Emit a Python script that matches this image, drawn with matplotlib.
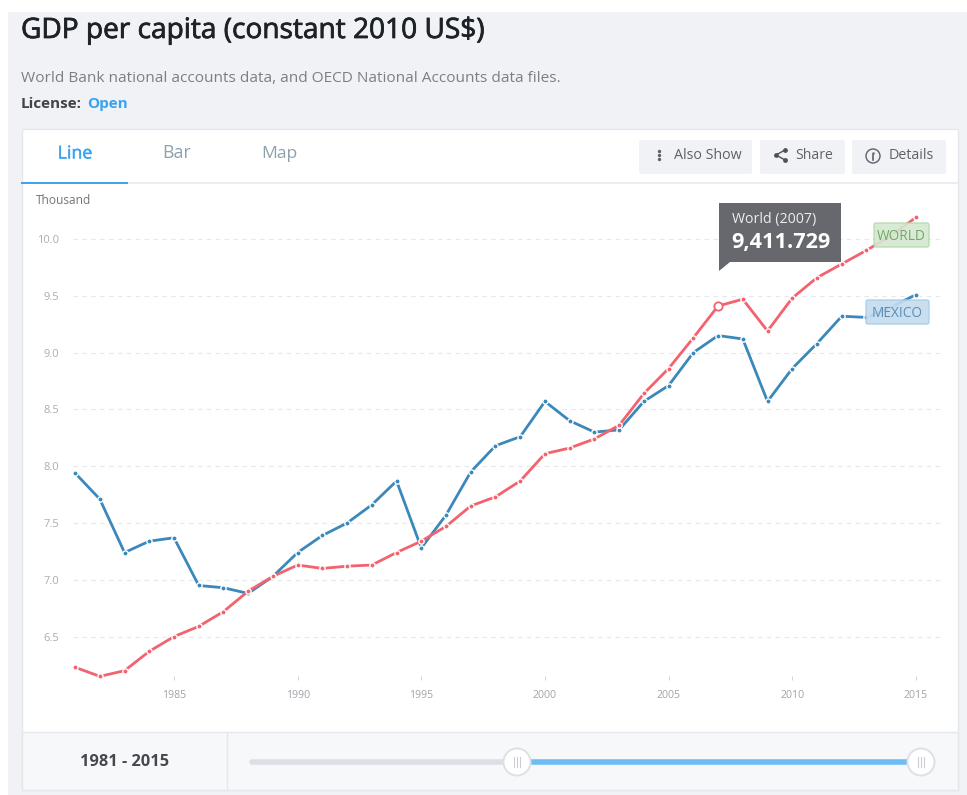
import matplotlib
matplotlib.use("Agg")
import matplotlib.pyplot as plt
import matplotlib.patheffects as pe
from matplotlib.patches import Rectangle, FancyBboxPatch, Polygon, Circle

plt.rcParams['font.family'] = ['Open Sans', 'DejaVu Sans']

# ---- data (thousand constant 2010 US$) ----
years = list(range(1981, 2016))
mexico = [7.94, 7.71, 7.24, 7.34, 7.37, 6.95, 6.93, 6.88, 7.03, 7.24, 7.39, 7.50,
          7.66, 7.87, 7.28, 7.57, 7.95, 8.18, 8.26, 8.57, 8.40, 8.30, 8.32, 8.57,
          8.71, 9.00, 9.15, 9.12, 8.57, 8.86, 9.08, 9.32, 9.31, 9.40, 9.51]
world = [6.23, 6.15, 6.20, 6.37, 6.50, 6.59, 6.72, 6.90, 7.03, 7.13, 7.10, 7.12,
         7.13, 7.24, 7.34, 7.47, 7.65, 7.73, 7.87, 8.11, 8.16, 8.24, 8.36, 8.64,
         8.86, 9.13, 9.41, 9.47, 9.19, 9.48, 9.66, 9.78, 9.90, 10.03, 10.19]
y_ticks = [6.5, 7.0, 7.5, 8.0, 8.5, 9.0, 9.5, 10.0]
x_ticks = [1985, 1990, 1995, 2000, 2005, 2010, 2015]
highlight_year = 2007
highlight_label = '9,411.729'

W, H = 967, 795
fig = plt.figure(figsize=(W / 100, H / 100), dpi=100, facecolor='white')

BLUE, RED = '#3b88bb', '#f2636f'
PAGE = '#f0f2f6'


def overlay(z):
    a = fig.add_axes([0, 0, 1, 1], zorder=z)
    a.set_xlim(0, W)
    a.set_ylim(H, 0)
    a.axis('off')
    a.patch.set_alpha(0)
    return a


def rrect(a, x0, y0, x1, y1, fc, ec='none', r=2, lw=1, alpha=None, z=2):
    a.add_patch(FancyBboxPatch((x0 + r, y0 + r), x1 - x0 - 2 * r, y1 - y0 - 2 * r,
                               boxstyle=f'round,pad={r},rounding_size={r}',
                               fc=fc, ec=ec, lw=lw, alpha=alpha, zorder=z))


def heavy(t, w, c):
    t.set_path_effects([pe.withStroke(linewidth=w, foreground=c)])
    return t


# ---- page chrome ----
bg = overlay(0)
bg.add_patch(Rectangle((8, 12), 959, 783, fc=PAGE, ec='none'))
bg.add_patch(Rectangle((22, 129), 936, 661, fc='white', ec='#e4e7ec', lw=1))
bg.plot([22, 958], [182.5, 182.5], color='#e6eaef', lw=1.2)
bg.plot([22, 127], [183, 183], color='#3ba3ee', lw=1.4)
bg.add_patch(Rectangle((22, 732), 936, 58, fc='#f7f8fa', ec='#e4e7ec', lw=1))
bg.plot([227, 227], [732, 790], color='#e4e7ec', lw=1)

heavy(bg.text(21, 31, 'GDP per capita (constant 2010 US$)', fontsize=20.2, color='#1d2228', va='center'),
      0.55, '#1d2228')
bg.text(21, 78, 'World Bank national accounts data, and OECD National Accounts data files.',
        fontsize=11.1, color='#7b7f85', va='center')
bg.text(21, 104, 'License:', fontsize=11, fontweight='bold', color='#3f444a', va='center')
bg.text(87, 104, 'Open', fontsize=11, fontweight='bold', color='#3ba3ee', va='center')
heavy(bg.text(75, 153.5, 'Line', fontsize=12.8, color='#3ba3ee', ha='center', va='center'), 0.3, '#3ba3ee')
bg.text(176.5, 153.5, 'Bar', fontsize=12.8, color='#8fa0ad', ha='center', va='center')
bg.text(279, 153.5, 'Map', fontsize=12.6, color='#8fa0ad', ha='center', va='center')
bg.text(36, 200, 'Thousand', fontsize=8.6, color='#70757b', va='center')

# buttons
for x0, x1 in [(639, 752), (760, 845), (852, 946)]:
    rrect(bg, x0, 140, x1, 174, '#f0f2f6')
bg.text(674, 155.5, 'Also Show', fontsize=10.3, color='#5d6268', va='center', zorder=3)
bg.text(795, 155.5, 'Share', fontsize=10.1, color='#5d6268', va='center', zorder=3)
bg.text(889, 155.5, 'Details', fontsize=10.3, color='#5d6268', va='center', zorder=3)
bg.scatter([659, 659, 659], [151, 155, 159], s=6, color='#5d6268', lw=0, zorder=3)
bg.plot([785, 776, 785], [150, 155, 160], color='#4d5258', lw=1, zorder=3)
bg.scatter([785, 776, 785], [150, 155, 160], s=12, color='#4d5258', lw=0, zorder=3)
bg.add_patch(Circle((873, 156), 7, fc='none', ec='#5d6268', lw=1, zorder=3))
bg.plot([873, 873], [155, 160], color='#5d6268', lw=1.2, zorder=3)
bg.scatter([873], [152.5], s=3, color='#5d6268', lw=0, zorder=3)

# range slider
bg.text(125, 761.5, '1981 - 2015', fontsize=11.8, fontweight='bold', color='#45494f',
        ha='center', va='center')
bg.plot([252, 517], [762, 762], color='#dce0e6', lw=4, solid_capstyle='round')
bg.plot([517, 920], [762, 762], color='#6bbdf3', lw=4, solid_capstyle='butt')
for cx in (517, 921):
    bg.add_patch(Circle((cx, 762), 13.5, fc='white', ec='#dde1e6', lw=1.4, zorder=3))
    for dx in (-3, 0, 3):
        bg.plot([cx + dx, cx + dx], [757, 767], color='#c9ced4', lw=0.8, zorder=4)

# ---- chart axes ----
PX_L, PX_R, PX_T, PX_B = 73, 945, 200, 676
Y10, PX_PER_UNIT = 239.0, 113.6
X85, PX_PER_YEAR = 174.0, 24.73
ax = fig.add_axes([PX_L / W, 1 - PX_B / H, (PX_R - PX_L) / W, (PX_B - PX_T) / H], zorder=1)
ax.patch.set_alpha(0)
ax.set_xlim(1985 + (PX_L - X85) / PX_PER_YEAR, 1985 + (PX_R - X85) / PX_PER_YEAR)
ax.set_ylim(10 - (PX_B - Y10) / PX_PER_UNIT, 10 - (PX_T - Y10) / PX_PER_UNIT)
for s in ax.spines.values():
    s.set_visible(False)
ax.set_yticks(y_ticks)
ax.set_yticklabels([f'{v:.1f}' for v in y_ticks])
ax.set_xticks(x_ticks)
ax.set_xticklabels([str(v) for v in x_ticks])
ax.tick_params(axis='y', length=0, pad=10, labelsize=8, labelcolor='#a9adb2')
ax.tick_params(axis='x', length=3, width=0.7, color='#cfd2d6', pad=7, labelsize=7.6, labelcolor='#a0a4a9')
ax.grid(axis='y', color='#e6e7ea', lw=0.8, ls=(0, (4, 4)))
ax.set_axisbelow(True)

for vals, col, z in [(mexico, BLUE, 3), (world, RED, 4)]:
    ax.plot(years, vals, color=col, lw=2.0, clip_on=False, zorder=z, solid_joinstyle='round',
            marker='o', ms=3.8, mfc=col, mec='white', mew=1.0)

i = years.index(highlight_year)
ax.plot([highlight_year], [world[i]], marker='o', ms=6, mfc='white', mec=RED, mew=1.3,
        clip_on=False, zorder=6, ls='none')

# ---- labels and tooltip ----
top = overlay(3)
rrect(top, 874, 223, 929, 247, '#d5e8d0', ec='#b5d9ae', lw=1, alpha=0.9, z=5)
top.text(901.5, 236, 'WORLD', fontsize=9.8, color='#6fa86a', ha='center', va='center', zorder=6)
rrect(top, 866, 300, 929, 324, '#c3dcef', ec='#a8cde8', lw=1, alpha=0.9, z=5)
top.text(897.5, 313.5, 'MEXICO', fontsize=9.8, color='#5b8db5', ha='center', va='center', zorder=6)

top.add_patch(Polygon([(719, 203), (841, 203), (841, 262), (730, 262), (719, 271)],
                      closed=True, fc='#66686e', ec='none', zorder=7))
top.text(732, 219, f'World ({highlight_year})', fontsize=10.2, color='#eeeeee', va='center', zorder=8)
top.text(731, 242.5, highlight_label, fontsize=15.6, fontweight='bold', color='white',
         va='center', zorder=8)

fig.savefig('out.png', dpi=100, facecolor='white')
